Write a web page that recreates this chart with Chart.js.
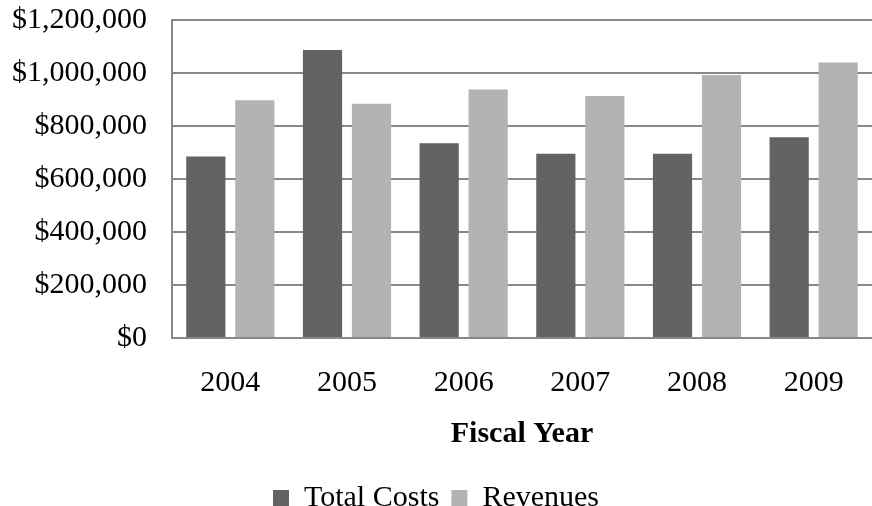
<!DOCTYPE html>
<html>
<head>
    <title>Costs and Revenues</title>
    <script src="https://cdn.jsdelivr.net/npm/chart.js"></script>
    <style>
        html, body { margin: 0; padding: 0; background: #fff; }
        #wrap { width: 872px; height: 506px; }
    </style>
</head>
<body>
    <div id="wrap"><canvas id="costChart"></canvas></div>

    <script>
        var years = ['2004', '2005', '2006', '2007', '2008', '2009'];
        var totalCosts = [685000, 1087000, 735000, 695000, 695000, 758000];
        var revenues = [897000, 884000, 938000, 913000, 992000, 1040000];
        var yTicks = [0, 200000, 400000, 600000, 800000, 1000000, 1200000];

        var serif = "'Liberation Serif', 'Times New Roman', serif";

        var costChart = new Chart(document.getElementById('costChart'), {
            type: 'bar',
            data: {
                labels: years,
                datasets: [{
                    label: 'Total Costs',
                    data: totalCosts,
                    backgroundColor: '#636363',
                    borderWidth: 0
                }, {
                    label: 'Revenues',
                    data: revenues,
                    backgroundColor: '#b3b3b3',
                    borderWidth: 0
                }]
            },
            options: {
                responsive: true,
                maintainAspectRatio: false,
                animation: false,
                layout: {
                    // legend sits right on the bottom edge in the original
                    padding: { left: 0, right: 0, top: 20, bottom: -17 }
                },
                datasets: {
                    bar: { categoryPercentage: 0.84, barPercentage: 0.8 }
                },
                plugins: {
                    tooltip: { enabled: false },
                    legend: {
                        position: 'bottom',
                        labels: {
                            color: '#000',
                            font: { family: serif, size: 30 },
                            boxWidth: 16,
                            boxHeight: 16,
                            padding: 12
                        }
                    }
                },
                scales: {
                    x: {
                        grid: { display: false, drawTicks: false },
                        border: { display: true, color: '#888', width: 2 },
                        ticks: {
                            color: '#000',
                            font: { family: serif, size: 30 },
                            padding: 27
                        },
                        title: {
                            display: true,
                            text: 'Fiscal Year',
                            color: '#000',
                            font: { family: serif, size: 30, weight: 'bold' },
                            padding: { top: 0, bottom: 19 }
                        },
                        afterFit: function (scale) {
                            scale.height = 133;
                            scale.paddingLeft = 0;
                            scale.paddingRight = 0;
                        }
                    },
                    y: {
                        min: 0,
                        max: 1200000,
                        afterBuildTicks: function (axis) {
                            axis.ticks = yTicks.map(function (v) { return { value: v }; });
                        },
                        grid: { color: '#888', lineWidth: 2, drawTicks: false },
                        border: { display: true, color: '#888', width: 2 },
                        ticks: {
                            color: '#000',
                            font: { family: serif, size: 30 },
                            padding: 25,
                            callback: function (v) { return '$' + Number(v).toLocaleString('en-US'); }
                        },
                        afterFit: function (scale) {
                            scale.width = 172;
                            scale.paddingTop = 0;
                            scale.paddingBottom = 0;
                        }
                    }
                }
            }
        });
    </script>
</body>
</html>
